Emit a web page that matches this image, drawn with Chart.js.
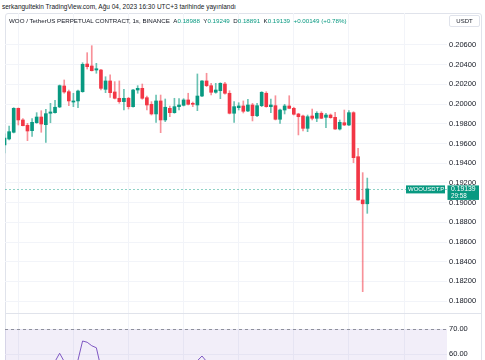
<!DOCTYPE html>
<html><head><meta charset="utf-8">
<script src="https://cdn.jsdelivr.net/npm/chart.js@4.4.0/dist/chart.umd.min.js"></script>
<style>
html,body{margin:0;padding:0;background:#fff;width:485px;height:360px;overflow:hidden;position:relative;font-family:"Liberation Sans",Arial,sans-serif;}
#pub{position:absolute;left:2px;top:3px;font-size:6.5px;line-height:8px;color:#131722;white-space:nowrap;}
#frame{position:absolute;left:5px;top:13px;width:477px;height:360px;border:1px solid #e0e3eb;border-radius:3px;box-sizing:border-box;}
#legend{position:absolute;left:9px;top:17px;font-size:6.2px;line-height:8px;color:#131722;white-space:nowrap;}
.v{color:#089981}
#usdt{position:absolute;left:449px;top:15px;width:31px;height:12px;border:1px solid #e0e3eb;border-radius:2px;box-sizing:border-box;font-size:6px;line-height:10px;text-align:center;color:#131722;background:#fff;}
#sep{position:absolute;left:5px;top:313px;width:477px;height:1px;background:#e0e3eb;}
#c1{position:absolute;left:0;top:13px;}
#c2{position:absolute;left:0;top:314px;}
</style></head>
<body>
<div id="frame"></div>
<canvas id="c1" width="485" height="300" style="width:485px;height:300px"></canvas>
<div id="sep"></div>
<canvas id="c2" width="485" height="46" style="width:485px;height:46px"></canvas>
<div id="pub">serkangultekin TradingView.com, Ağu 04, 2023 16:30 UTC+3 tarihinde yayınlandı</div>
<div id="legend">WOO / TetherUS PERPETUAL CONTRACT, 1s, BINANCE&nbsp;&nbsp;A<span class="v">0.18988</span>&nbsp;&nbsp;Y<span class="v">0.19249</span>&nbsp;&nbsp;D<span class="v">0.18891</span>&nbsp;&nbsp;K<span class="v">0.19139</span>&nbsp;&nbsp;<span class="v">+0.00149 (+0.78%)</span></div>
<div id="usdt">USDT</div>
<script>
// ---- data ----
const opens = [0.19585,0.19646,0.19714,0.19957,0.19839,0.19785,0.19730,0.19811,0.19869,0.19791,
 0.19907,0.19913,0.19971,0.20184,0.20126,0.20021,0.20032,0.20126,0.20407,0.20387,
 0.20346,0.20346,0.20150,0.20235,0.20123,0.20059,0.20025,0.20059,0.19974,0.20143,
 0.20160,0.20065,0.19998,0.19900,0.20032,0.19839,0.19957,0.19913,0.19974,0.19988,
 0.20042,0.20008,0.19991,0.20082,0.20235,0.20187,0.20120,0.20136,0.20204,0.20110,
 0.19907,0.19964,0.19981,0.19930,0.19991,0.19882,0.19984,0.20110,0.19974,0.19984,
 0.19846,0.19940,0.19981,0.19957,0.19900,0.19879,0.19754,0.19879,0.19856,0.19907,
 0.19866,0.19889,0.19866,0.19747,0.19811,0.19788,0.19913,0.19466,0.19027,0.18988];
const highs = [0.19697,0.19778,0.19964,0.19961,0.19852,0.19805,0.19852,0.19913,0.19933,0.19947,
 0.20008,0.20039,0.20194,0.20245,0.20143,0.20110,0.20143,0.20420,0.20522,0.20593,
 0.20414,0.20353,0.20278,0.20296,0.20228,0.20235,0.20150,0.20069,0.20150,0.20187,
 0.20204,0.20082,0.20025,0.20092,0.20092,0.20052,0.19981,0.20059,0.20055,0.20055,
 0.20110,0.20021,0.20306,0.20238,0.20313,0.20211,0.20211,0.20217,0.20221,0.20136,
 0.20025,0.20014,0.20032,0.20049,0.20008,0.20008,0.20126,0.20126,0.20052,0.20085,
 0.19950,0.19998,0.20085,0.19968,0.19907,0.19889,0.19889,0.19950,0.19923,0.19923,
 0.19907,0.19900,0.19917,0.19839,0.19940,0.19933,0.19923,0.19551,0.19304,0.19249];
const lows = [0.19504,0.19636,0.19707,0.19788,0.19778,0.19629,0.19673,0.19805,0.19714,0.19612,
 0.19811,0.19907,0.19964,0.20110,0.19984,0.19974,0.19964,0.20120,0.20356,0.20336,
 0.20313,0.20143,0.20116,0.20069,0.20052,0.20008,0.19940,0.19950,0.19968,0.20110,
 0.20049,0.19940,0.19889,0.19815,0.19710,0.19822,0.19872,0.19907,0.19940,0.19981,
 0.19991,0.19974,0.19933,0.20075,0.20177,0.20092,0.20110,0.20055,0.20100,0.19900,
 0.19815,0.19940,0.19910,0.19923,0.19829,0.19872,0.19974,0.19968,0.19913,0.19839,
 0.19805,0.19900,0.19953,0.19889,0.19687,0.19727,0.19720,0.19839,0.19822,0.19852,
 0.19761,0.19856,0.19744,0.19737,0.19781,0.19781,0.19405,0.19024,0.18096,0.18891];
const closes = [0.19656,0.19720,0.19957,0.19839,0.19781,0.19727,0.19815,0.19869,0.19798,0.19903,
 0.19920,0.19968,0.20187,0.20123,0.20032,0.20032,0.20133,0.20404,0.20380,0.20339,
 0.20359,0.20160,0.20235,0.20116,0.20059,0.20025,0.20059,0.19974,0.20143,0.20160,
 0.20059,0.19991,0.19900,0.20032,0.19839,0.19968,0.19913,0.19974,0.19991,0.20042,
 0.19998,0.19998,0.20082,0.20235,0.20187,0.20120,0.20143,0.20211,0.20110,0.19907,
 0.19974,0.19981,0.19927,0.19991,0.19882,0.19984,0.20120,0.19974,0.19991,0.19846,
 0.19940,0.19981,0.19957,0.19897,0.19872,0.19754,0.19872,0.19856,0.19907,0.19856,
 0.19889,0.19862,0.19747,0.19815,0.19788,0.19913,0.19456,0.19027,0.18988,0.19139];
const rsi = [45,48,56,52,50,47,50,52,49,53,
 54,57,60.3,57,53,53.5,57.6,65.2,64.7,63.3,
 62.5,54.5,56,52,50,49,50.5,48.5,53,53.5,
 50.5,48.5,46,50,45.5,49,48,49.5,50,51.5,
 50,49.5,57.3,59.2,57,54,54.5,56,52,46,
 48,48.5,47.5,49,46.5,49,53,49.5,50,46.5,
 49,50,49.5,48,47.5,45,48,47.5,49,48,
 48.5,48,45,47,46.5,50,38,30,29,33];
const priceTicks = [0.180,0.182,0.184,0.186,0.188,0.190,0.192,0.194,0.196,0.198,0.200,0.202,0.204,0.206];
const rsiTicks = [60,70];
const timeGridIdx = [3,15,27,39,51,63,75,87];
const symbolLabel = 'WOOUSDT.P';
const countdown = '29:58';
const rsiUpper = 70, rsiLower = 30;

// ---- styling ----
const UP = '#089981', DOWN = '#f23645';
const UP_W = 'rgba(8,153,129,0.6)', DOWN_W = 'rgba(242,54,69,0.55)';
const GRID = '#f2f4f9';
const FONT = '"Liberation Sans", Arial, sans-serif';
const AX_FONT = 7.5;
const X_MIN = 0.1045, X_MAX = 96.36;
const Y_MIN = 0.1787919, Y_MAX = 0.2092487;

const lastClose = closes[closes.length - 1];
const bodies = opens.map((o, i) => ({x: i, y: [o, closes[i]]}));
const wicks = lows.map((l, i) => ({x: i, y: [l, highs[i]]}));
const isUp = opens.map((o, i) => closes[i] >= o);
const rsiPts = rsi.map((v, i) => ({x: i, y: v}));

function xScale() {
  return {
    type: 'linear', min: X_MIN, max: X_MAX, offset: false,
    grid: {color: GRID, drawTicks: false, offset: false, lineWidth: 1},
    border: {display: false}, ticks: {display: false},
    afterBuildTicks: s => { s.ticks = timeGridIdx.map(v => ({value: v})); }
  };
}
function fitY(s) { s.width = 38; s.paddingTop = 0; s.paddingBottom = 0; }

const pricePlugin = {
  id: 'priceDeco',
  beforeDatasetsDraw(chart) {
    const {ctx, chartArea: a, scales: {y}} = chart;
    const p = Math.round(y.getPixelForValue(lastClose)) + 0.5;
    ctx.save();
    ctx.strokeStyle = 'rgba(8,153,129,0.45)';
    ctx.setLineDash([2, 2]);
    ctx.lineWidth = 1;
    ctx.beginPath(); ctx.moveTo(a.left, p); ctx.lineTo(a.right, p); ctx.stroke();
    ctx.restore();
  },
  afterDraw(chart) {
    const {ctx, chartArea: a, scales: {y}} = chart;
    const p = y.getPixelForValue(lastClose);
    ctx.save();
    ctx.fillStyle = UP;
    ctx.fillRect(a.right - 41, p - 3.5, 39, 8);
    ctx.fillRect(a.right + 0.5, p - 3.5, 31.5, 14.5);
    ctx.fillStyle = '#fff';
    ctx.textBaseline = 'middle';
    ctx.textAlign = 'left';
    ctx.font = '6px ' + FONT;
    ctx.fillText(symbolLabel, a.right - 39, p + 0.5);
    ctx.font = '6.8px ' + FONT;
    ctx.fillText(lastClose.toFixed(5), a.right + 4, p + 0.5);
    ctx.font = '6.3px ' + FONT;
    ctx.fillText(countdown, a.right + 4, p + 7.5);
    ctx.restore();
  }
};

new Chart(document.getElementById('c1'), {
  type: 'bar',
  data: {datasets: [
    {data: wicks, backgroundColor: isUp.map(u => u ? UP_W : DOWN_W), barThickness: 1, grouped: false, order: 2, minBarLength: 1, borderWidth: 0},
    {data: bodies, backgroundColor: isUp.map(u => u ? UP : DOWN), barThickness: 3, grouped: false, order: 1, minBarLength: 1, borderWidth: 0}
  ]},
  plugins: [pricePlugin],
  options: {
    responsive: false, animation: false, devicePixelRatio: 1,
    layout: {padding: {left: 5, right: 0, top: 0, bottom: 0}},
    plugins: {legend: {display: false}, tooltip: {enabled: false}},
    scales: {
      x: xScale(),
      y: {
        position: 'right', min: Y_MIN, max: Y_MAX,
        grid: {color: GRID, drawTicks: false}, border: {display: false},
        ticks: {padding: 2, color: '#131722', font: {family: FONT, size: AX_FONT}, callback: v => Number(v).toFixed(5)},
        afterBuildTicks: s => { s.ticks = priceTicks.map(v => ({value: v})); },
        afterFit: fitY
      }
    }
  }
});

const rsiPlugin = {
  id: 'rsiBand',
  beforeDatasetsDraw(chart) {
    const {ctx, chartArea: a, scales: {y}} = chart;
    const top = y.getPixelForValue(rsiUpper);
    const bot = y.getPixelForValue(rsiLower);
    ctx.save();
    ctx.fillStyle = 'rgba(126,87,194,0.1)';
    ctx.fillRect(a.left, top, a.right - a.left, bot - top);
    ctx.strokeStyle = 'rgba(120,123,134,0.8)';
    ctx.setLineDash([3, 3]);
    ctx.lineWidth = 1;
    const yy = Math.round(top) + 0.5;
    ctx.beginPath(); ctx.moveTo(a.left, yy); ctx.lineTo(a.right, yy); ctx.stroke();
    ctx.restore();
  }
};

new Chart(document.getElementById('c2'), {
  type: 'line',
  data: {datasets: [{data: rsiPts, borderColor: '#7e57c2', borderWidth: 1, pointRadius: 0, tension: 0}]},
  plugins: [rsiPlugin],
  options: {
    responsive: false, animation: false, devicePixelRatio: 1,
    layout: {padding: {left: 5, right: 0, top: 0, bottom: 0}},
    plugins: {legend: {display: false}, tooltip: {enabled: false}},
    scales: {
      x: xScale(),
      y: {
        position: 'right', min: 57.6, max: 76,
        grid: {color: GRID, drawTicks: false}, border: {display: false},
        ticks: {padding: 2, color: '#131722', font: {family: FONT, size: AX_FONT}, callback: v => Number(v).toFixed(2)},
        afterBuildTicks: s => { s.ticks = rsiTicks.map(v => ({value: v})); },
        afterFit: fitY
      }
    }
  }
});
</script>
</body></html>
